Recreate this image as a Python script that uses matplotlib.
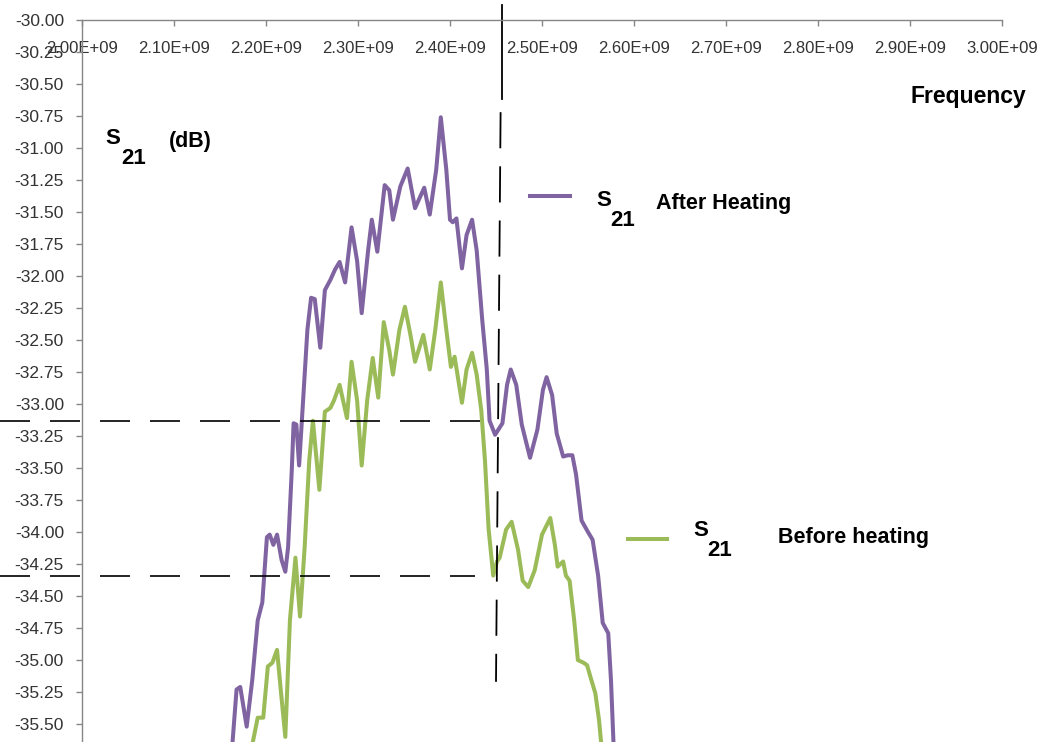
import matplotlib
matplotlib.use("Agg")
from matplotlib import pyplot as plt
from matplotlib.lines import Line2D
from matplotlib.ticker import FuncFormatter

# S21 after heating: frequency (GHz) / level (dB)
freq_after = [2.163, 2.168, 2.172, 2.179, 2.185, 2.191, 2.196, 2.201, 2.204, 2.208,
              2.212, 2.217, 2.221, 2.224, 2.228, 2.230, 2.233, 2.236, 2.240, 2.245,
              2.249, 2.253, 2.259, 2.264, 2.270, 2.275, 2.280, 2.286, 2.293, 2.299,
              2.304, 2.311, 2.315, 2.321, 2.329, 2.334, 2.338, 2.346, 2.354, 2.362,
              2.372, 2.378, 2.385, 2.390, 2.396, 2.400, 2.403, 2.407, 2.413, 2.418,
              2.424, 2.429, 2.435, 2.440, 2.443, 2.449, 2.457, 2.462, 2.466, 2.472,
              2.478, 2.487, 2.495, 2.501, 2.505, 2.511, 2.516, 2.523, 2.528, 2.533,
              2.537, 2.543, 2.550, 2.555, 2.561, 2.566, 2.572, 2.575, 2.578]
s21_after = [-35.70, -35.23, -35.21, -35.52, -35.16, -34.69, -34.55, -34.04, -34.02, -34.10,
             -34.02, -34.22, -34.31, -34.12, -33.52, -33.15, -33.16, -33.48, -33.01, -32.42,
             -32.17, -32.18, -32.56, -32.11, -32.03, -31.95, -31.89, -32.05, -31.62, -31.88,
             -32.29, -31.80, -31.56, -31.81, -31.29, -31.33, -31.56, -31.30, -31.16, -31.47,
             -31.31, -31.52, -31.17, -30.76, -31.17, -31.56, -31.58, -31.55, -31.94, -31.68,
             -31.56, -31.80, -32.34, -32.73, -33.13, -33.24, -33.15, -32.85, -32.73, -32.85,
             -33.16, -33.42, -33.20, -32.89, -32.79, -32.93, -33.23, -33.41, -33.40, -33.40,
             -33.55, -33.91, -34.00, -34.06, -34.34, -34.71, -34.79, -35.16, -35.70]

# S21 before heating
freq_before = [2.184, 2.191, 2.197, 2.202, 2.207, 2.212, 2.216, 2.221, 2.226, 2.232,
               2.237, 2.242, 2.247, 2.251, 2.258, 2.264, 2.270, 2.274, 2.280, 2.288,
               2.293, 2.299, 2.304, 2.310, 2.316, 2.322, 2.328, 2.334, 2.338, 2.345,
               2.351, 2.357, 2.362, 2.371, 2.378, 2.384, 2.390, 2.396, 2.401, 2.405,
               2.413, 2.418, 2.424, 2.429, 2.434, 2.438, 2.442, 2.447, 2.451, 2.454,
               2.461, 2.467, 2.474, 2.479, 2.485, 2.492, 2.500, 2.509, 2.514, 2.517,
               2.523, 2.526, 2.530, 2.535, 2.539, 2.545, 2.549, 2.553, 2.558, 2.562,
               2.565]
s21_before = [-35.70, -35.45, -35.45, -35.05, -35.02, -34.92, -35.23, -35.60, -34.69, -34.20,
              -34.66, -34.12, -33.44, -33.13, -33.67, -33.06, -33.03, -32.97, -32.85, -33.11,
              -32.67, -32.97, -33.48, -32.97, -32.64, -32.95, -32.36, -32.58, -32.77, -32.42,
              -32.24, -32.46, -32.67, -32.46, -32.73, -32.42, -32.05, -32.42, -32.71, -32.63,
              -32.99, -32.73, -32.60, -32.77, -33.05, -33.44, -33.98, -34.34, -34.23, -34.20,
              -33.98, -33.92, -34.14, -34.38, -34.43, -34.30, -34.02, -33.89, -34.10, -34.27,
              -34.23, -34.34, -34.38, -34.69, -35.00, -35.02, -35.04, -35.14, -35.26, -35.47,
              -35.70]

x_ticks = [2.0, 2.1, 2.2, 2.3, 2.4, 2.5, 2.6, 2.7, 2.8, 2.9, 3.0]
y_ticks = [-30.0, -30.25, -30.5, -30.75, -31.0, -31.25, -31.5, -31.75, -32.0, -32.25,
           -32.5, -32.75, -33.0, -33.25, -33.5, -33.75, -34.0, -34.25, -34.5, -34.75,
           -35.0, -35.25, -35.5]

# marker lines drawn on the chart
mark_freq = 2.455
mark_after = -33.13
mark_before = -34.34

purple = '#8064A2'
green = '#9BBB59'

plt.rcParams['font.family'] = ['Liberation Sans', 'DejaVu Sans']

W, H = 1060, 742
fig = plt.figure(figsize=(W / 100, H / 100), dpi=100)
ax = fig.add_axes([82 / W, 0, 920 / W, 722 / H])


def px(x, y):
    # pixel position -> figure fraction
    return x / W, 1 - y / H


ax.plot(freq_after, s21_after, color=purple, lw=2.9, solid_joinstyle='round')
ax.plot(freq_before, s21_before, color=green, lw=2.9, solid_joinstyle='round')

ax.set_xlim(2.0, 3.0)
ax.set_ylim(-35.64, -30.0)
ax.set_xticks(x_ticks)
ax.set_yticks(y_ticks)
ax.xaxis.set_major_formatter(FuncFormatter(lambda v, p: '%.2E' % (v * 1e9)))
ax.yaxis.set_major_formatter(FuncFormatter(lambda v, p: '%.2f' % v))

# x axis sits on top of the plot (at -30 dB)
ax.spines['bottom'].set_position(('data', -30.0))
ax.spines['top'].set_visible(False)
ax.spines['right'].set_visible(False)
for s in ['bottom', 'left']:
    ax.spines[s].set_color('#868686')
    ax.spines[s].set_linewidth(1.0)
ax.tick_params(axis='both', direction='out', length=4, width=1.0, color='#868686',
               labelcolor='#333333')
ax.tick_params(axis='x', pad=11, labelsize=12)
ax.tick_params(axis='y', pad=9, labelsize=12.5)

# dashed marker lines (run past the axis on the left)
ax.plot([1.911, 2.441], [mark_after, mark_after], color='black', lw=1.2,
        dashes=(18, 12), clip_on=False)
ax.plot([1.911, 2.427], [mark_before, mark_before], color='black', lw=1.2,
        dashes=(18, 12), clip_on=False)
ax.plot([mark_freq + 0.001, mark_freq + 0.001], [-29.88, -30.62], color='black', lw=1.3,
        clip_on=False)
ax.plot([mark_freq, mark_freq - 0.005], [-30.72, -35.17], color='black', lw=1.3,
        dashes=(20, 10), clip_on=False)

# axis titles
fig.text(*px(113, 139), 'S', fontsize=16, fontweight='bold', ha='center', va='center')
fig.text(*px(134, 158), '21', fontsize=16, fontweight='bold', ha='center', va='center')
fig.text(*px(190, 142), '(dB)', fontsize=15.5, fontweight='bold', ha='center', va='center')
fig.text(*px(968, 96), 'Frequency', fontsize=16.5, fontweight='bold', ha='center', va='center')

# hand-placed legend entries
fig.add_artist(Line2D([530 / W, 570 / W], [1 - 196 / H] * 2, color=purple, lw=2.9))
fig.text(*px(604, 200), 'S', fontsize=16, fontweight='bold', ha='center', va='center')
fig.text(*px(623, 221), '21', fontsize=16, fontweight='bold', ha='center', va='center')
fig.text(*px(656, 203), 'After Heating', fontsize=15.5, fontweight='bold', ha='left', va='center')

fig.add_artist(Line2D([628 / W, 667 / W], [1 - 539 / H] * 2, color=green, lw=2.9))
fig.text(*px(701, 531), 'S', fontsize=16, fontweight='bold', ha='center', va='center')
fig.text(*px(720, 550), '21', fontsize=16, fontweight='bold', ha='center', va='center')
fig.text(*px(778, 537), 'Before heating', fontsize=15.5, fontweight='bold', ha='left', va='center')

fig.savefig('out.png', dpi=100)
